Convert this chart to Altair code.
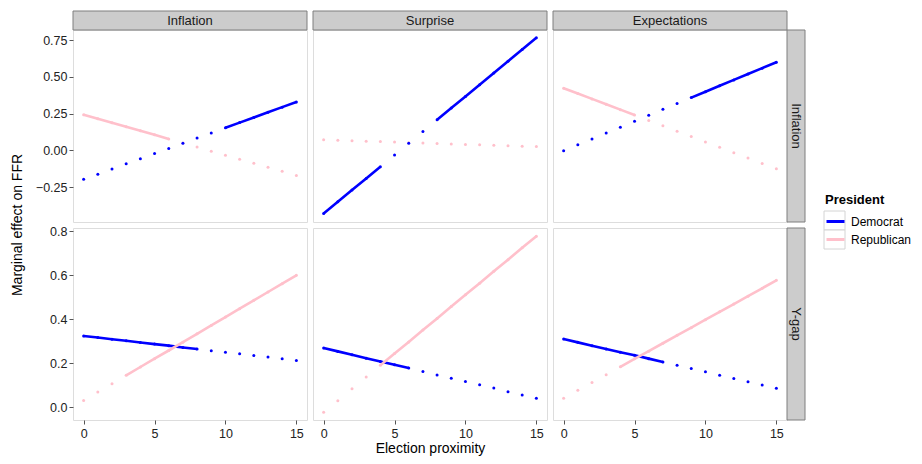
import altair as alt
import pandas as pd

# ---------------- data ----------------
x_vals = list(range(16))
row_labels = ["Inflation", "Y-gap"]
col_labels = ["Inflation", "Surprise", "Expectations"]
parties = ["Democrat", "Republican"]
party_colors = ["#0000FF", "#FFC0CB"]

# row Inflation
inf_inf_dem = [-0.196, -0.161, -0.126, -0.091, -0.056, -0.021, 0.014, 0.049, 0.084, 0.119, 0.154, 0.189, 0.224, 0.259, 0.294, 0.329]
inf_inf_rep = [0.243, 0.216, 0.188, 0.161, 0.133, 0.106, 0.078, 0.051, 0.023, -0.005, -0.032, -0.060, -0.087, -0.115, -0.142, -0.170]
inf_sur_dem = [-0.428, -0.349, -0.269, -0.190, -0.110, -0.031, 0.049, 0.129, 0.208, 0.288, 0.367, 0.447, 0.526, 0.606, 0.685, 0.765]
inf_sur_rep = [0.072, 0.069, 0.066, 0.063, 0.060, 0.057, 0.053, 0.050, 0.047, 0.044, 0.041, 0.038, 0.035, 0.032, 0.029, 0.026]
inf_exp_dem = [-0.002, 0.038, 0.078, 0.118, 0.158, 0.199, 0.239, 0.279, 0.319, 0.359, 0.399, 0.439, 0.479, 0.519, 0.559, 0.599]
inf_exp_rep = [0.423, 0.387, 0.350, 0.314, 0.277, 0.241, 0.204, 0.168, 0.131, 0.095, 0.058, 0.022, -0.015, -0.052, -0.088, -0.125]
# row Y-gap
yg_inf_dem = [0.323, 0.316, 0.308, 0.301, 0.293, 0.286, 0.279, 0.271, 0.264, 0.256, 0.249, 0.242, 0.234, 0.227, 0.219, 0.212]
yg_inf_rep = [0.030, 0.068, 0.106, 0.144, 0.182, 0.220, 0.257, 0.295, 0.333, 0.371, 0.409, 0.447, 0.485, 0.523, 0.561, 0.599]
yg_sur_dem = [0.268, 0.253, 0.238, 0.222, 0.207, 0.192, 0.177, 0.162, 0.146, 0.131, 0.116, 0.101, 0.086, 0.070, 0.055, 0.040]
yg_sur_rep = [-0.024, 0.029, 0.083, 0.136, 0.190, 0.243, 0.296, 0.350, 0.403, 0.457, 0.510, 0.563, 0.617, 0.670, 0.724, 0.777]
yg_exp_dem = [0.309, 0.294, 0.279, 0.264, 0.249, 0.235, 0.220, 0.205, 0.190, 0.175, 0.160, 0.145, 0.130, 0.115, 0.100, 0.085]
yg_exp_rep = [0.040, 0.076, 0.111, 0.147, 0.183, 0.219, 0.254, 0.290, 0.326, 0.361, 0.397, 0.433, 0.468, 0.504, 0.540, 0.576]

# significant ranges (drawn as solid lines)
series = [
    ("Inflation", "Inflation", "Democrat", inf_inf_dem, [(10, 15)]),
    ("Inflation", "Inflation", "Republican", inf_inf_rep, [(0, 6)]),
    ("Inflation", "Surprise", "Democrat", inf_sur_dem, [(0, 4), (8, 15)]),
    ("Inflation", "Surprise", "Republican", inf_sur_rep, []),
    ("Inflation", "Expectations", "Democrat", inf_exp_dem, [(9, 15)]),
    ("Inflation", "Expectations", "Republican", inf_exp_rep, [(0, 5)]),
    ("Y-gap", "Inflation", "Democrat", yg_inf_dem, [(0, 8)]),
    ("Y-gap", "Inflation", "Republican", yg_inf_rep, [(3, 15)]),
    ("Y-gap", "Surprise", "Democrat", yg_sur_dem, [(0, 6)]),
    ("Y-gap", "Surprise", "Republican", yg_sur_rep, [(4, 15)]),
    ("Y-gap", "Expectations", "Democrat", yg_exp_dem, [(0, 7)]),
    ("Y-gap", "Expectations", "Republican", yg_exp_rep, [(4, 15)]),
]

recs = []
for r, c, p, vals, ranges in series:
    for x, v in zip(x_vals, vals):
        seg = -1
        for i, (a, b) in enumerate(ranges):
            if a <= x <= b:
                seg = i
        recs.append({"row": r, "col": c, "party": p, "x": x, "y": v,
                     "sig": seg >= 0, "seg": f"{p}-{seg}"})
df = pd.DataFrame(recs)
# points: Democrats drawn on top
df_pts = pd.concat([df[df.party == "Republican"], df[df.party == "Democrat"]])

y_domains = {"Inflation": [-0.486, 0.818], "Y-gap": [-0.059, 0.814]}
y_ticks = {"Inflation": [-0.25, 0.0, 0.25, 0.5, 0.75], "Y-gap": [0.0, 0.2, 0.4, 0.6, 0.8]}
y_formats = {"Inflation": ".2f", "Y-gap": ".1f"}
x_ticks = [0, 5, 10, 15]

FONT = "Liberation Sans"
W, H = 234, 192
STRIP = 19
TICK_FS = 12.5
LEG_X = 752

color_scale = alt.Scale(domain=parties, range=party_colors)
legend = alt.Legend(title="President", orient="none", legendX=LEG_X, legendY=164,
                    titleFont=FONT, titleFontSize=13, titleFontWeight="bold",
                    titleColor="#000", titlePadding=4, labelFont=FONT, labelFontSize=12,
                    labelColor="#000", symbolType="stroke", symbolStrokeWidth=3,
                    symbolSize=324, rowPadding=1, labelOffset=5, padding=0)


def panel(ri, ci):
    r = row_labels[ri]
    c = col_labels[ci]
    d = df[(df.row == r) & (df.col == c)]
    dp = df_pts[(df_pts.row == r) & (df_pts.col == c)]
    xsc = alt.Scale(domain=[-0.75, 15.75], nice=False, zero=False)
    ysc = alt.Scale(domain=y_domains[r], nice=False, zero=False)
    if ri == 1:
        xaxis = alt.Axis(values=x_ticks, format="d", grid=False,
                         title="Election proximity" if ci == 1 else None,
                         titleFontSize=14, titleFontWeight="normal", titleFont=FONT,
                         titlePadding=2, titleColor="#000",
                         labelFontSize=TICK_FS, labelFont=FONT, labelColor="#222",
                         tickColor="#555", tickSize=4, domain=False, labelPadding=3)
    else:
        xaxis = None
    if ci == 0:
        yaxis = alt.Axis(values=y_ticks[r], format=y_formats[r], grid=False, title=None,
                         labelFontSize=TICK_FS, labelFont=FONT, labelColor="#222",
                         tickColor="#555", tickSize=4, domain=False, labelPadding=2)
    else:
        yaxis = None
    enc_x = alt.X("x:Q", scale=xsc, axis=xaxis)
    enc_y = alt.Y("y:Q", scale=ysc, axis=yaxis)
    color = alt.Color("party:N", scale=color_scale, legend=legend)
    layers = []
    if ri == 0 and ci == 2:
        # legend key boxes (ggplot style), drawn behind the legend symbols
        kb = alt.Chart(pd.DataFrame({"k": [0]}))
        bx = LEG_X - 2 * (W + 6) - 1
        for top in (181, 200):
            layers.append(kb.mark_rect(fill="white", stroke="#d4d4d4", strokeWidth=1).encode(
                x=alt.value(bx), x2=alt.value(bx + 21),
                y=alt.value(top), y2=alt.value(top + 19)))
    pts = alt.Chart(dp).mark_circle(size=9, opacity=1).encode(x=enc_x, y=enc_y, color=color)
    lines = alt.Chart(d).transform_filter("datum.sig").mark_line(strokeWidth=2.6).encode(
        x=enc_x, y=enc_y, color=color, detail="seg:N")
    layers += [pts, lines]
    if ri == 0:
        sd = alt.Chart(pd.DataFrame({"label": [c]}))
        layers.append(sd.mark_rect(fill="#cccccc", stroke="#7f7f7f", strokeWidth=1).encode(
            x=alt.value(0), x2=alt.value(W), y=alt.value(-STRIP), y2=alt.value(0)))
        layers.append(sd.mark_text(font=FONT, fontSize=13, color="#1a1a1a").encode(
            x=alt.value(W / 2), y=alt.value(-STRIP / 2), text="label:N"))
    if ci == 2:
        sd = alt.Chart(pd.DataFrame({"label": [r]}))
        layers.append(sd.mark_rect(fill="#cccccc", stroke="#7f7f7f", strokeWidth=1).encode(
            x=alt.value(W), x2=alt.value(W + 18), y=alt.value(0), y2=alt.value(H)))
        layers.append(sd.mark_text(font=FONT, fontSize=13, color="#1a1a1a", angle=90).encode(
            x=alt.value(W + 9), y=alt.value(H / 2), text="label:N"))
    if ri == 0 and ci == 0:
        sd = alt.Chart(pd.DataFrame({"label": ["Marginal effect on FFR"]}))
        layers.append(sd.mark_text(font=FONT, fontSize=14, color="#000", angle=270).encode(
            x=alt.value(-55), y=alt.value(H + 3), text="label:N"))
    return alt.layer(*layers).properties(width=W, height=H)


panels = [panel(ri, ci) for ri in range(2) for ci in range(3)]

chart = alt.concat(*panels, columns=3, spacing=6, bounds="flush").properties(
    padding={"left": 2, "top": 2, "right": 0, "bottom": 5}
).configure_view(stroke="#7f7f7f", strokeWidth=1).configure(font=FONT)

chart.save("out.html", embed_options={"renderer": "svg", "actions": False})
